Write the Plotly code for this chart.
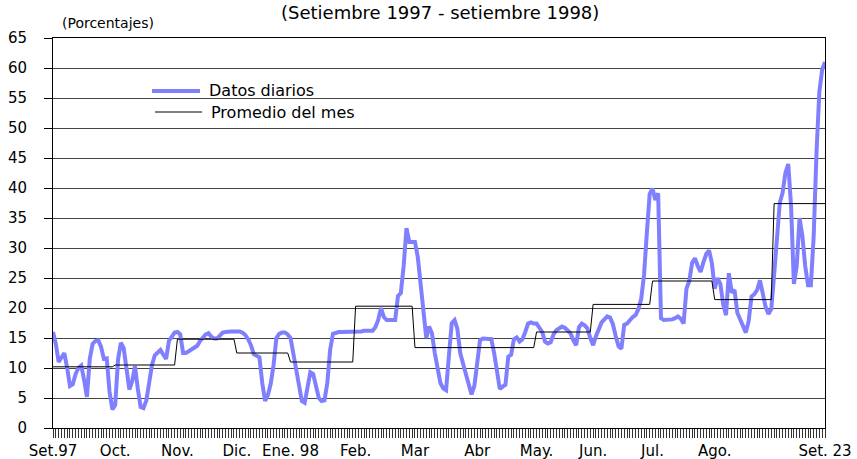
import plotly.graph_objects as go

# ---- data ----
month_labels = ["Set.97", "Oct.", "Nov.", "Dic.", "Ene. 98", "Feb.", "Mar",
                "Abr", "May.", "Jun.", "Jul.", "Ago.", ""]
end_label = "Set. 23"

sep97 = [16, 14, 11, 11.8, 12.5, 10, 7, 7.3, 9, 10, 10.4, 8, 5.2, 11.5, 14, 14.5,
         14.6, 13.5, 11.5, 11.6, 6, 3.1]
oct97 = [3.8, 11.4, 14.2, 13.3, 10, 6.4, 7.8, 10.3, 6.5, 3.5, 3.3, 4.6, 7.5, 10.5,
         12.1, 12.6, 13, 12.2, 11.5, 14.5, 15.3, 15.9]
nov97 = [16, 15.6, 12.5, 12.5, 12.8, 13.1, 13.4, 13.7, 14.5, 15.2, 15.6, 15.8, 15.2,
         14.9, 14.9, 15.4, 15.9, 16, 16.1, 16.1, 16.1]
dec97 = [16.1, 16.1, 15.9, 15.5, 14.8, 13.8, 12.3, 12, 11.8, 7.5, 4.5, 5.5, 7.4,
         10.5, 15, 15.7, 15.9, 15.9, 15.6]
jan98 = [15, 12.4, 10, 7, 4.5, 4.2, 6.5, 9.3, 9, 6.6, 5, 4.5, 4.6, 7.5, 13, 15.7,
         15.9, 16, 16, 16, 16.1, 16.1, 16.1]
feb98 = [16.1, 16.1, 16.1, 16.2, 16.2, 16.2, 16.2, 16.8, 18, 20, 18.5, 18, 18, 18,
         18, 22, 22.5, 27, 33.3, 31, 31]
mar98 = [31, 28.5, 24, 18, 15, 16.9, 15.8, 12.5, 10.2, 7.5, 6.6, 6.3, 12, 17.5, 18,
         16.5, 12.5, 10.5, 9, 7.3, 5.6, 7]
apr98 = [11, 14.6, 14.9, 14.9, 14.8, 14.8, 12.5, 9.5, 6.5, 6.9, 7.2, 11.9, 12.2,
         14.8, 15.1, 14.4, 14.8, 16, 17.4, 17.6, 17.4]
may98 = [17.4, 16.8, 16, 14.4, 14.1, 14.3, 15.6, 16.3, 16.7, 16.9, 16.7, 16.3, 15.8,
         14.6, 13.8, 16.8, 17.4, 17.1, 16.6, 15]
jun98 = [13.8, 15.3, 16.6, 17.6, 18.1, 18.6, 18.4, 17.3, 15.3, 13.6, 13.2, 17.2,
         17.4, 18, 18.5, 18.8, 19.8, 21.5, 25.5, 32.5, 39]
jul98 = [39.9, 38, 39.1, 18.3, 18, 18, 18, 18.1, 18.3, 18.6, 18.2, 17.4, 23.2, 24.5,
         27.5, 28.3, 27, 26, 27.6, 29, 29.6, 27.5]
aug98 = [23.2, 25, 24, 20.6, 18.8, 25.8, 22.6, 23, 19.2, 18.2, 17.2, 15.9, 17.8,
         21.9, 22.3, 23, 24.6, 22.5, 20.2, 19, 19.8]
sep98 = [25.5, 31.5, 37.5, 39.2, 42.5, 44, 37, 24, 27, 35, 32, 27, 23.8, 23.8, 32,
         46, 56, 59.7, 61]

monthly_avg = [10.2, 10.5, 14.8, 12.5, 11.0, 20.3, 13.4, 13.4, 16.0, 20.6, 24.5,
               21.4, 37.4]

months = [sep97, oct97, nov97, dec97, jan98, feb98, mar98, apr98, may98, jun98,
          jul98, aug98, sep98]

# ---- build series ----
daily = []
promedio = []
month_start = []
for vals, avg in zip(months, monthly_avg):
    month_start.append(len(daily))
    daily.extend(vals)
    promedio.extend([avg] * len(vals))
x = list(range(len(daily)))
last = len(daily) - 1

ticktext = [""] * len(daily)
for idx, lab in zip(month_start, month_labels):
    if lab:
        ticktext[idx] = lab
ticktext[last] = end_label

FONT = "DejaVu Sans"
BLUE = "#8080FF"

fig = go.Figure()
fig.add_trace(go.Scatter(x=x, y=daily, mode="lines", name="Datos diarios",
                         line=dict(color=BLUE, width=4), showlegend=False))
fig.add_trace(go.Scatter(x=x, y=promedio, mode="lines", name="Promedio del mes",
                         line=dict(color="black", width=1), showlegend=False))

# plot area: x 53..825, y 38..428 in pixels
def px(xpix):
    return (xpix - 53) / 772.0

def py(ypix):
    return (428 - ypix) / 390.0

shapes = [
    dict(type="line", xref="paper", yref="paper", x0=px(152), x1=px(200),
         y0=py(91), y1=py(91), line=dict(color=BLUE, width=4)),
    dict(type="line", xref="paper", yref="paper", x0=px(155), x1=px(202),
         y0=py(112), y1=py(112), line=dict(color="black", width=1)),
]
annotations = [
    dict(text="Datos diarios", xref="paper", yref="paper", x=px(207), y=py(91),
         xanchor="left", yanchor="middle", showarrow=False,
         font=dict(family=FONT, size=16, color="black")),
    dict(text="Promedio del mes", xref="paper", yref="paper", x=px(209), y=py(112),
         xanchor="left", yanchor="middle", showarrow=False,
         font=dict(family=FONT, size=16, color="black")),
    dict(text="(Porcentajes)", xref="paper", yref="paper", x=px(60), y=py(23),
         xanchor="left", yanchor="middle", showarrow=False,
         font=dict(family=FONT, size=14, color="black")),
    dict(text="(Setiembre 1997 - setiembre 1998)", xref="paper", yref="paper",
         x=px(440), y=py(0), xanchor="center", yanchor="top", showarrow=False,
         font=dict(family=FONT, size=18, color="black")),
]

fig.update_layout(
    template="none",
    width=857, height=459,
    margin=dict(l=53, r=32, t=38, b=31, pad=0, autoexpand=False),
    paper_bgcolor="white", plot_bgcolor="white",
    font=dict(family=FONT, color="black"),
    showlegend=False,
    shapes=shapes,
    annotations=annotations,
)
fig.update_xaxes(
    range=[0, last], tickmode="array", tickvals=x, ticktext=ticktext,
    ticks="outside", ticklen=9, tickwidth=1, tickcolor="#333333",
    showline=True, linecolor="black", linewidth=1, mirror=True,
    showgrid=False, zeroline=False, automargin=False,
    tickfont=dict(family=FONT, size=15, color="black"),
)
fig.update_yaxes(
    range=[0, 65], tickmode="linear", tick0=0, dtick=5,
    ticks="outside", ticklen=8, tickwidth=1, tickcolor="black",
    showline=True, linecolor="black", linewidth=1, mirror=True,
    showgrid=True, gridcolor="#444444", gridwidth=1, zeroline=False,
    automargin=False,
    tickfont=dict(family=FONT, size=15, color="black"),
    ticklabelstandoff=14,
)

fig.write_html(
    "out.html",
    config={"displayModeBar": False},
    post_script="document.body.style.margin='0';document.body.style.padding='0';"
                "document.documentElement.style.overflow='hidden';",
)
